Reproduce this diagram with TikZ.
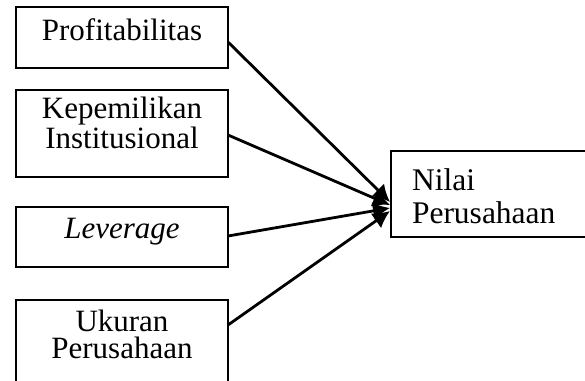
\documentclass[tikz,border=0pt]{standalone}
\usepackage{fontspec}
\setmainfont{Liberation Serif}
\usetikzlibrary{arrows.meta}
\tikzset{
  box/.style={draw=black, line width=2pt, rectangle, inner sep=0pt, outer sep=0pt},
  lbl/.style={font=\fontsize{31}{27}\selectfont, inner sep=0pt, outer sep=0pt, align=center, anchor=base},
  rlbl/.style={font=\fontsize{31.5}{33}\selectfont, inner sep=0pt, outer sep=0pt, align=left, anchor=base west},
  conn/.style={line width=2.8pt, -{Latex[length=17pt,width=18pt]}}
}
\begin{document}
\begin{tikzpicture}[x=1pt,y=-1pt]
\useasboundingbox (0,0) rectangle (585,380);
\clip (0,0) rectangle (585,380);
% boxes
\node[box, minimum width=212pt, minimum height=61pt] (p) at (122,37.5) {};
\node[box, minimum width=212pt, minimum height=87pt] (k) at (122,133) {};
\node[box, minimum width=212pt, minimum height=60.5pt] (l) at (122,237) {};
\node[box, minimum width=212pt, minimum height=100pt] (u) at (122,350) {};
\node[box, minimum width=220pt, minimum height=86pt] (n) at (501,194) {};
% texts
\node[lbl] (pt) at (122,40.5) {Profitabilitas};
\node[lbl] (kt) at (122,148) {Kepemilikan\\Institusional};
\node[lbl] (lt) at (122,238) {\itshape Leverage};
\node[lbl] (ut) at (122,358) {Ukuran\\Perusahaan};
\node[rlbl] (nt) at (412,223) {Nilai\\Perusahaan};
% connectors
\coordinate (t1) at (390,202);
\coordinate (t2) at (390,205);
\coordinate (t3) at (390,208);
\coordinate (t4) at (390,211);
\draw[conn] (p.east |- 0,42) -- (t1);
\draw[conn] (k.east |- 0,135) -- (t2);
\draw[conn] (l.east |- 0,236) -- (t3);
\draw[conn] (u.east |- 0,325) -- (t4);
\end{tikzpicture}
\end{document}
